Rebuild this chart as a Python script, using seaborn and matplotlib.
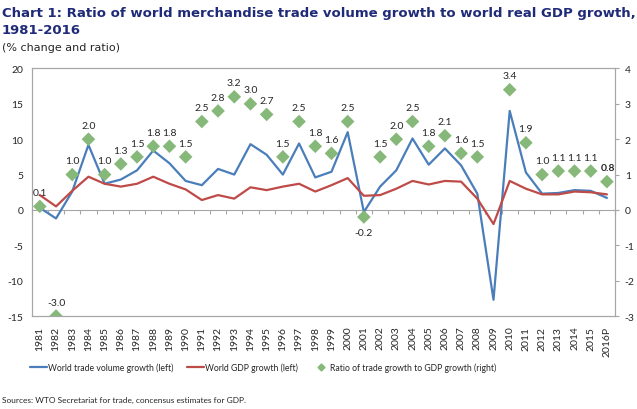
import numpy as np
import pandas as pd
import seaborn as sns
import matplotlib
matplotlib.use("Agg")
import matplotlib.pyplot as plt
from matplotlib.lines import Line2D

years = [str(y) for y in range(1981, 2016)] + ["2016P"]
trade_growth = [0.3, -1.2, 2.6, 9.2, 3.7, 4.3, 5.6, 8.4, 6.6, 4.1, 3.5, 5.8, 5.0, 9.3, 7.8, 5.0, 9.4, 4.6,
                5.4, 11.0, -0.3, 3.3, 5.6, 10.1, 6.4, 8.7, 6.3, 2.3, -12.7, 14.0, 5.3, 2.3, 2.4, 2.8, 2.7, 1.7]
gdp_growth = [2.1, 0.5, 2.7, 4.7, 3.7, 3.3, 3.7, 4.7, 3.7, 2.9, 1.4, 2.1, 1.6, 3.2, 2.8, 3.3, 3.7, 2.6,
              3.5, 4.5, 2.0, 2.1, 3.0, 4.1, 3.6, 4.1, 4.0, 1.6, -2.0, 4.1, 3.0, 2.2, 2.2, 2.6, 2.5, 2.2]
ratio = [0.1, -3.0, 1.0, 2.0, 1.0, 1.3, 1.5, 1.8, 1.8, 1.5, 2.5, 2.8, 3.2, 3.0, 2.7, 1.5, 2.5, 1.8,
         1.6, 2.5, -0.2, 1.5, 2.0, 2.5, 1.8, 2.1, 1.6, 1.5, np.nan, 3.4, 1.9, 1.0, 1.1, 1.1, 1.1, 0.8]

df = pd.DataFrame({"year": years, "trade": trade_growth, "gdp": gdp_growth, "ratio": ratio})
df["pos"] = np.arange(len(df))

BLUE = "#4a7ebb"
RED = "#be4b48"
GREEN = "#86b87a"
GRID = "#a6a6a6"
TXT = "#262626"

sns.set_style("white")
plt.rcParams["font.family"] = ["Lato", "DejaVu Sans"]
plt.rcParams["axes.unicode_minus"] = False

fig = plt.figure(figsize=(6.37, 4.10), dpi=100)
ax = fig.add_axes([0.0498, 0.2268, 0.9157, 0.6037])

sns.lineplot(data=df, x="pos", y="trade", color=BLUE, lw=1.6, ax=ax)
sns.lineplot(data=df, x="pos", y="gdp", color=RED, lw=1.6, ax=ax)
ax.set_xlim(-0.5, len(df) - 0.5)
ax.set_ylim(-15, 20)
ax.set_yticks(range(-15, 21, 5))
ax.set_xticks(df["pos"])
ax.set_xticklabels(df["year"], rotation=90)
ax.set_xlabel("")
ax.set_ylabel("")
ax.tick_params(axis="x", length=0, pad=7, labelsize=7.5, labelcolor=TXT)
ax.tick_params(axis="y", length=0, pad=6, labelsize=7.5, labelcolor=TXT)
for s in ax.spines.values():
    s.set_color(GRID)
    s.set_linewidth(0.8)

# category axis crossing at zero
zero_frac = (0 - ax.get_ylim()[0]) / (ax.get_ylim()[1] - ax.get_ylim()[0])
zx = ax.secondary_xaxis(zero_frac)
zx.set_xticks(np.arange(len(df) + 1) - 0.5)
zx.set_xticklabels([])
zx.tick_params(direction="out", length=3, color=GRID, width=0.8)
zx.spines["bottom"].set_color(GRID)
zx.spines["bottom"].set_linewidth(0.8)

ax2 = ax.twinx()
sns.scatterplot(data=df, x="pos", y="ratio", marker="D", s=48, color=GREEN,
                edgecolor="none", ax=ax2, zorder=5)
ax2.set_ylim(-3, 4)
ax2.set_yticks(range(-3, 5))
ax2.set_ylabel("")
ax2.tick_params(axis="y", direction="out", length=3, color=GRID, pad=4, labelsize=7.5, labelcolor=TXT)
for s in ax2.spines.values():
    s.set_color(GRID)
    s.set_linewidth(0.8)

for p, r in zip(df["pos"], df["ratio"]):
    if np.isnan(r):
        continue
    last = p == len(df) - 1
    if r < 0 and r > -1:
        ax2.annotate(f"{r:.1f}", (p, r), xytext=(0, -11), textcoords="offset points",
                     ha="center", va="center", fontsize=7.5, color=TXT)
    else:
        ax2.annotate(f"{r:.1f}", (p, r), xytext=(1 if last else 0, 10), textcoords="offset points",
                     ha="center", va="center", fontsize=7.5, color=TXT,
                     fontweight="bold" if last else "normal")

fig.text(0.003, 0.958, "Chart 1: Ratio of world merchandise trade volume growth to world real GDP growth,",
         fontsize=9.5, fontweight="bold", color="#1f2a78", family="DejaVu Sans", va="baseline")
fig.text(0.003, 0.916, "1981-2016", fontsize=9.5, fontweight="bold", color="#1f2a78",
         family="DejaVu Sans", va="baseline")
fig.text(0.003, 0.876, "(% change and ratio)", fontsize=8.0, color=TXT,
         family="DejaVu Sans", va="baseline")

handles = [Line2D([], [], color=BLUE, lw=1.6),
           Line2D([], [], color=RED, lw=1.6),
           Line2D([], [], color=GREEN, marker="D", ls="none", markersize=3.5)]
labels = ["World trade volume growth (left)", "World GDP growth (left)",
          "Ratio of trade growth to GDP growth (right)"]
fig.legend(handles, labels, loc="center", bbox_to_anchor=(0.413, 0.102), ncol=3,
           frameon=False, fontsize=6.2, handlelength=2.0, handletextpad=0.1, columnspacing=1.6,
           labelcolor=TXT)

fig.text(0.003, 0.017, "Sources: WTO Secretariat for trade, concensus estimates for GDP.",
         fontsize=6.0, color=TXT, va="baseline")

fig.savefig("out.png", dpi=100)
